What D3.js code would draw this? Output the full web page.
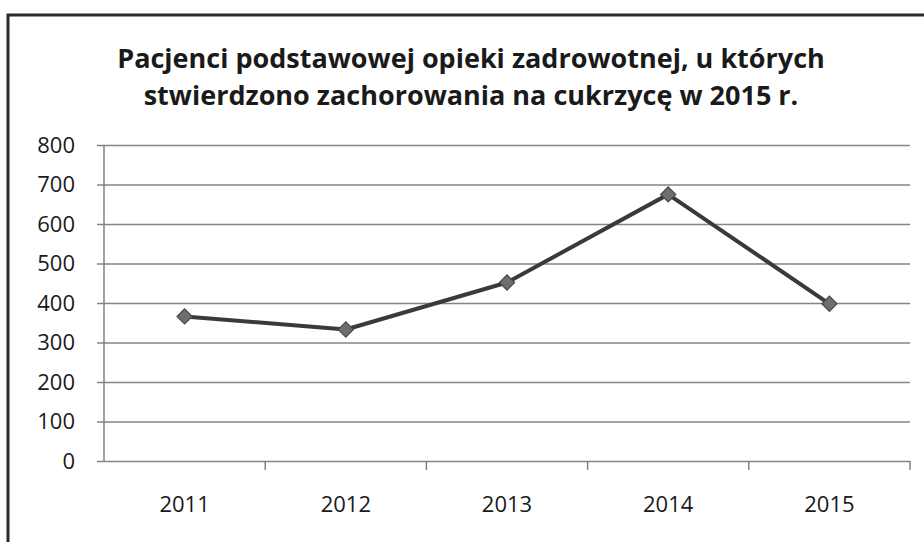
<!DOCTYPE html>
<html>
<head>
<meta charset="utf-8">
<script src="https://cdn.jsdelivr.net/npm/d3@7"></script>
<style>
  body { margin: 0; background: #fff; }
  svg { display: block; }
</style>
</head>
<body>
<div id="chart"></div>
<script>
// Data
const years = ["2011", "2012", "2013", "2014", "2015"];
const patients = [366, 333, 452, 675, 398];
const yTicks = [0, 100, 200, 300, 400, 500, 600, 700, 800];
const titleLines = [
  "Pacjenci podstawowej opieki zadrowotnej, u których",
  "stwierdzono zachorowania  na cukrzycę w 2015 r."
];

const data = years.map((y, i) => ({year: y, value: patients[i]}));

/*******************************/
/*    Declare the constants    */
/*******************************/
const width = 924;
const height = 542;
const margin = {top: 145, right: 14, bottom: 81, left: 104};
const innerWidth = width - margin.left - margin.right;
const innerHeight = height - margin.top - margin.bottom;
const font = "'Open Sans', sans-serif";

const svg = d3.select("#chart")
  .append("svg")
    .attr("width", width)
    .attr("height", height);

// Outer frame (only top and left edges fall inside the picture)
svg.append("path")
    .attr("d", `M8,${height} V15 H${width}`)
    .attr("fill", "none")
    .attr("stroke", "#2a2a2a")
    .attr("stroke-width", 3);

// Title
svg.append("g")
  .selectAll("text")
  .data(titleLines)
  .join("text")
    .attr("x", 471)
    .attr("y", (d, i) => 68 + i * 37)
    .attr("text-anchor", "middle")
    .attr("font-family", font)
    .attr("font-weight", "bold")
    .attr("font-size", 27)
    .attr("fill", "#1a1a1a")
    .text(d => d);

const innerChart = svg.append("g")
    .attr("transform", `translate(${margin.left}, ${margin.top})`);

/****************************/
/*    Declare the scales    */
/****************************/
const xScale = d3.scaleBand()
  .domain(years)
  .range([0, innerWidth]);

const yScale = d3.scaleLinear()
  .domain([0, 800])
  .range([innerHeight, 0]);

/**************************/
/*      Add the axes      */
/**************************/
const leftAxis = d3.axisLeft(yScale)
  .tickValues(yTicks)
  .tickSizeOuter(0)
  .tickPadding(23);
const yAxisG = innerChart.append("g")
    .call(leftAxis)
    .attr("font-family", font)
    .attr("font-size", 22);
yAxisG.select(".domain").remove();
yAxisG.selectAll(".tick line")
    .attr("x1", -7)
    .attr("x2", innerWidth)
    .attr("stroke", "#858585")
    .attr("stroke-width", 1.6);
yAxisG.selectAll(".tick text")
    .attr("text-anchor", "end")
    .attr("fill", "#1a1a1a");

// vertical axis line
innerChart.append("line")
    .attr("x1", 0).attr("x2", 0)
    .attr("y1", 0).attr("y2", innerHeight)
    .attr("stroke", "#7a7a7a")
    .attr("stroke-width", 1.4);

// category boundary ticks
const boundaries = years.map(d => xScale(d) + xScale.bandwidth());
innerChart.append("g")
  .selectAll("line")
  .data(boundaries)
  .join("line")
    .attr("x1", d => d).attr("x2", d => d)
    .attr("y1", innerHeight).attr("y2", innerHeight + 9)
    .attr("stroke", "#7a7a7a")
    .attr("stroke-width", 1.4);

const bottomAxis = d3.axisBottom(xScale)
  .tickSize(0)
  .tickPadding(35);
const xAxisG = innerChart.append("g")
    .attr("transform", `translate(0, ${innerHeight})`)
    .call(bottomAxis)
    .attr("font-family", font)
    .attr("font-size", 22);
xAxisG.select(".domain").remove();
xAxisG.selectAll(".tick text")
    .attr("text-anchor", "middle")
    .attr("fill", "#1a1a1a");

/**************************/
/*    Append the line     */
/**************************/
const lineGen = d3.line()
  .x(d => xScale(d.year) + xScale.bandwidth() / 2)
  .y(d => yScale(d.value));

innerChart.append("path")
    .datum(data)
    .attr("d", lineGen)
    .attr("fill", "none")
    .attr("stroke", "#3a3a3a")
    .attr("stroke-width", 4)
    .attr("stroke-linejoin", "round");

const marker = d3.symbol(d3.symbolSquare).size(115);
innerChart.append("g")
  .selectAll("path")
  .data(data)
  .join("path")
    .attr("d", marker)
    .attr("transform", d => `translate(${xScale(d.year) + xScale.bandwidth() / 2}, ${yScale(d.value)}) rotate(45)`)
    .attr("fill", "#6e6e6e")
    .attr("stroke", "#484848")
    .attr("stroke-width", 1.2);
</script>
</body>
</html>
